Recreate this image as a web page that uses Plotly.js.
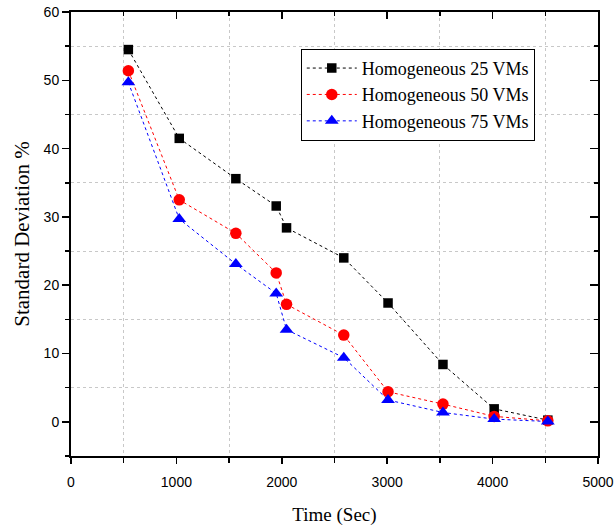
<!DOCTYPE html>
<html>
<head>
<meta charset="utf-8">
<script src="https://cdn.plot.ly/plotly-3.0.1.min.js"></script>
<style>html,body{margin:0;padding:0;background:#fff;}#chart{width:616px;height:526px;}</style>
</head>
<body>
<div id="chart"></div>
<script>
const timeSec = [544, 1027, 1564, 1947, 2045, 2588, 3008, 3529, 4015, 4524];
const vm25 = [54.5, 41.5, 35.6, 31.6, 28.4, 24.0, 17.4, 8.4, 1.9, 0.25];
const vm50 = [51.4, 32.5, 27.6, 21.8, 17.2, 12.7, 4.4, 2.6, 0.8, 0.15];
const vm75 = [49.7, 29.7, 23.1, 18.8, 13.5, 9.4, 3.2, 1.37, 0.4, 0.05];
const seriesNames = ['Homogeneous 25 VMs', 'Homogeneous 50 VMs', 'Homogeneous 75 VMs'];

const lineStyle = c => ({color: c, width: 1, dash: '3px,3px'});
const traces = [
  {x: timeSec, y: vm25, name: seriesNames[0], mode: 'lines+markers', line: lineStyle('#000000'),
   marker: {symbol: 'square', size: 9.5, color: '#000000'}},
  {x: timeSec, y: vm50, name: seriesNames[1], mode: 'lines+markers', line: lineStyle('#ff0000'),
   marker: {symbol: 'circle', size: 11.5, color: '#ff0000'}},
  {x: timeSec, y: vm75, name: seriesNames[2], mode: 'lines+markers', line: lineStyle('#0000ff'),
   marker: {symbol: 'triangle-up', size: 12, color: '#0000ff'}},
  {x: [null], y: [null], xaxis: 'x2', yaxis: 'y2', showlegend: false, hoverinfo: 'skip', mode: 'markers'}
];

const gridStyle = {showgrid: true, gridcolor: '#c8c8c8', griddash: 'dot', gridwidth: 1};
const layout = {
  width: 616, height: 526,
  margin: {l: 71, r: 18, t: 12, b: 70},
  paper_bgcolor: '#fff', plot_bgcolor: '#fff',
  showlegend: true,
  legend: {x: 0.436, y: 0.917, xanchor: 'left', yanchor: 'top',
    bgcolor: '#fff', bordercolor: '#000', borderwidth: 1,
    font: {family: 'Liberation Serif', size: 18, color: '#000'},
    itemwidth: 50, tracegroupgap: 0},
  xaxis: {
    range: [0, 5000], dtick: 1000, tick0: 0, showgrid: false, zeroline: false,
    showline: true, linecolor: '#000', linewidth: 2, mirror: true,
    ticks: 'outside', ticklen: 6, tickwidth: 1.5, tickcolor: '#000',
    minor: Object.assign({dtick: 500, tick0: 0, ticks: 'outside', ticklen: 5, tickwidth: 1.5, tickcolor: '#000'}, gridStyle),
    tickfont: {family: 'Liberation Sans', size: 14, color: '#000'},
    ticklabelstandoff: 6,
    title: {text: 'Time (Sec)', font: {family: 'Liberation Serif', size: 19, color: '#000'}, standoff: 20}
  },
  yaxis: {
    range: [-5, 60], dtick: 10, tick0: 0, showgrid: false, zeroline: false,
    showline: true, linecolor: '#000', linewidth: 2, mirror: true,
    ticks: 'outside', ticklen: 7, tickwidth: 1.5, tickcolor: '#000',
    minor: Object.assign({dtick: 5, tick0: 0, ticks: 'outside', ticklen: 4, tickwidth: 1.5, tickcolor: '#000'}, gridStyle),
    tickfont: {family: 'Liberation Sans', size: 14, color: '#000'},
    title: {text: 'Standard Deviation %', font: {family: 'Liberation Serif', size: 21, color: '#000'}, standoff: 8}
  },
  xaxis2: {
    overlaying: 'x', side: 'top', anchor: 'y2', range: [0, 5000], dtick: 1000, tick0: 0,
    showgrid: false, zeroline: false, showline: false, showticklabels: false,
    ticks: 'inside', ticklen: 7, tickwidth: 1.5, tickcolor: '#000',
    minor: {dtick: 500, tick0: 0, ticks: 'inside', ticklen: 4, tickwidth: 1.5, tickcolor: '#000', showgrid: false}
  },
  yaxis2: {
    overlaying: 'y', side: 'right', anchor: 'x2', range: [-5, 60], dtick: 10, tick0: 0,
    showgrid: false, zeroline: false, showline: false, showticklabels: false,
    ticks: 'inside', ticklen: 8, tickwidth: 1.5, tickcolor: '#000',
    minor: {dtick: 5, tick0: 0, ticks: 'inside', ticklen: 4, tickwidth: 1.5, tickcolor: '#000', showgrid: false}
  }
};

Plotly.newPlot('chart', traces, layout, {displayModeBar: false, staticPlot: true});
</script>
</body>
</html>
